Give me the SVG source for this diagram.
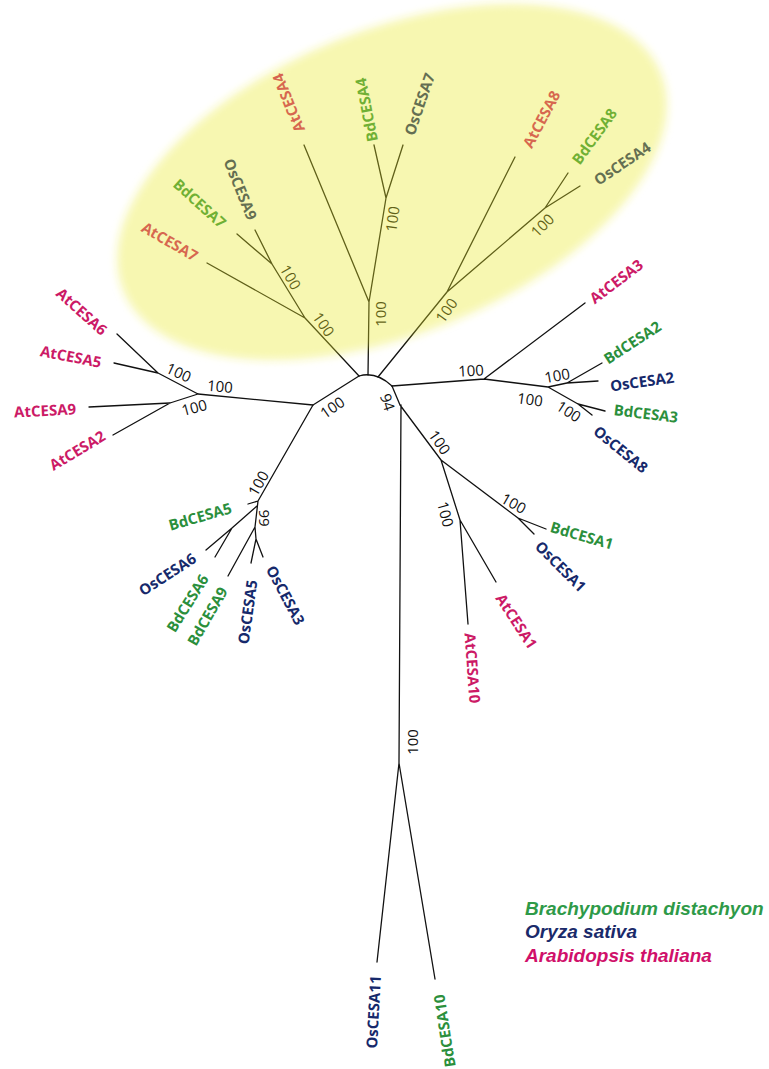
<svg xmlns="http://www.w3.org/2000/svg" width="769" height="1069" viewBox="0 0 769 1069">
<style>
.br{fill:none;stroke:#111;stroke-width:1.3;stroke-linecap:round}
.lbl{font-family:"Open Sans","Liberation Sans",sans-serif;font-weight:bold;font-size:15px;text-anchor:middle;dominant-baseline:central}
.bs{font-family:"Open Sans","Liberation Sans",sans-serif;font-size:15px;text-anchor:middle;dominant-baseline:central;fill:#111}
.at{fill:#cc1a66}.bd{fill:#2b8f3c}.os{fill:#16296b}
.leg{font-family:"Liberation Sans",Arial,sans-serif;font-weight:bold;font-style:italic;font-size:19px}
</style>
<defs>
<filter id="soft" x="-10%" y="-10%" width="120%" height="120%"><feGaussianBlur stdDeviation="4"/></filter>
</defs>
<rect width="769" height="1069" fill="#fff"/>
<g id="connectors">
<path class="br" d="M359,376 Q376,371 392,386"/>
<path class="br" d="M359,376 L305,318 M305,318 L207,263 M305,318 L272,264 L255,230 M272,264 L237,234"/>
<path class="br" d="M368,375 L369,302 M369,302 L304,145 M369,302 L386,198 M386,198 L374,145 M386,198 L403,145"/>
<path class="br" d="M378,377 L447,292 M447,292 L515,157 M447,292 L545,208 M545,208 L568,173 M545,208 L580,186"/>
<path class="br" d="M392,386 L484,379 M484,379 L585,303 M484,379 L548,387 M548,387 L567,383 M567,383 L602,363 M567,383 L598,381 M548,387 L578,404 M578,404 L605,411 M578,404 L592,415"/>
<path class="br" d="M392,386 L400,405 M401,405 L399,763 M400,405 L441,460 M441,460 L518,518 M518,518 L546,529 M518,518 L534,534 M441,460 L460,520 M460,520 L496,582 M460,520 L468,624 M399,763 L377,962 M399,763 L435,979"/>
<path class="br" d="M359,376 L313,405 M313,405 L198,394 M198,394 L158,373 M158,373 L117,334 M158,373 L114,363 M198,394 L170,403 M170,403 L89,407 M170,403 L113,435"/>
<path class="br" d="M313,405 L258,501 M258,501 L248,504 M258,501 L255,527 M257,506 L232,528 M232,528 L206,550 M232,528 L215,557 M255,527 L228,576 M255,527 L256,539 M256,539 L251,563 M256,539 L263,557"/>
</g>
<g id="support">
<text class="bs" transform="translate(291,277) rotate(60)">100</text>
<text class="bs" transform="translate(324,324) rotate(55)">100</text>
<text class="bs" transform="translate(380,314) rotate(-90)">100</text>
<text class="bs" transform="translate(392,219) rotate(-82)">100</text>
<text class="bs" transform="translate(542,225) rotate(-45)">100</text>
<text class="bs" transform="translate(446,310) rotate(-55)">100</text>
<text class="bs" transform="translate(471,370) rotate(-3)">100</text>
<text class="bs" transform="translate(557,375) rotate(-10)">100</text>
<text class="bs" transform="translate(530,399) rotate(8)">100</text>
<text class="bs" transform="translate(569,411) rotate(33)">100</text>
<text class="bs" transform="translate(440,442) rotate(55)">100</text>
<text class="bs" transform="translate(514,503) rotate(30)">100</text>
<text class="bs" transform="translate(446,514) rotate(75)">100</text>
<text class="bs" transform="translate(388,402) rotate(72)">94</text>
<text class="bs" transform="translate(332,407) rotate(-35)">100</text>
<text class="bs" transform="translate(179,372) rotate(25)">100</text>
<text class="bs" transform="translate(220,386) rotate(5)">100</text>
<text class="bs" transform="translate(194,407) rotate(-15)">100</text>
<text class="bs" transform="translate(258,483) rotate(-60)">100</text>
<text class="bs" transform="translate(265,518) rotate(90)">99</text>
<text class="bs" transform="translate(412,742) rotate(-90)">100</text>
</g>
<g id="AtCESA7"><text class="lbl at" transform="translate(170,241) rotate(30)">AtCESA7</text></g>
<g id="BdCESA7"><text class="lbl bd" transform="translate(200,203) rotate(42)">BdCESA7</text></g>
<g id="OsCESA9"><text class="lbl os" transform="translate(241,189) rotate(68)">OsCESA9</text></g>
<g id="AtCESA4"><text class="lbl at" transform="translate(288,103) rotate(-112)">AtCESA4</text></g>
<g id="BdCESA4"><text class="lbl bd" transform="translate(366,110) rotate(-101)">BdCESA4</text></g>
<g id="OsCESA7"><text class="lbl os" transform="translate(419,104) rotate(-71)">OsCESA7</text></g>
<g id="AtCESA8"><text class="lbl at" transform="translate(541,119) rotate(-62)">AtCESA8</text></g>
<g id="BdCESA8"><text class="lbl bd" transform="translate(594,136) rotate(-54)">BdCESA8</text></g>
<g id="OsCESA4"><text class="lbl os" transform="translate(622,163) rotate(-34)">OsCESA4</text></g>
<g id="AtCESA3"><text class="lbl at" transform="translate(616,281) rotate(-37)">AtCESA3</text></g>
<g id="BdCESA2"><text class="lbl bd" transform="translate(632,342) rotate(-33)">BdCESA2</text></g>
<g id="OsCESA2"><text class="lbl os" transform="translate(642,381) rotate(-8)">OsCESA2</text></g>
<g id="BdCESA3"><text class="lbl bd" transform="translate(646,413) rotate(7)">BdCESA3</text></g>
<g id="OsCESA8"><text class="lbl os" transform="translate(621,449) rotate(39)">OsCESA8</text></g>
<g id="BdCESA1"><text class="lbl bd" transform="translate(582,535) rotate(16)">BdCESA1</text></g>
<g id="OsCESA1"><text class="lbl os" transform="translate(561,566) rotate(45)">OsCESA1</text></g>
<g id="AtCESA1"><text class="lbl at" transform="translate(517,621) rotate(57)">AtCESA1</text></g>
<g id="AtCESA10"><text class="lbl at" transform="translate(473,668) rotate(86)">AtCESA10</text></g>
<g id="OsCESA11"><text class="lbl os" transform="translate(373,1012) rotate(-87)">OsCESA11</text></g>
<g id="BdCESA10"><text class="lbl bd" transform="translate(444,1031) rotate(-99)">BdCESA10</text></g>
<g id="OsCESA3"><text class="lbl os" transform="translate(286,595) rotate(62)">OsCESA3</text></g>
<g id="OsCESA5"><text class="lbl os" transform="translate(247,612) rotate(-82)">OsCESA5</text></g>
<g id="BdCESA9"><text class="lbl bd" transform="translate(207,616) rotate(-60)">BdCESA9</text></g>
<g id="BdCESA6"><text class="lbl bd" transform="translate(187,603) rotate(-58)">BdCESA6</text></g>
<g id="OsCESA6"><text class="lbl os" transform="translate(167,574) rotate(-33)">OsCESA6</text></g>
<g id="BdCESA5"><text class="lbl bd" transform="translate(200,516) rotate(-16)">BdCESA5</text></g>
<g id="AtCESA2"><text class="lbl at" transform="translate(77,450) rotate(-31)">AtCESA2</text></g>
<g id="AtCESA9"><text class="lbl at" transform="translate(45,410) rotate(-3)">AtCESA9</text></g>
<g id="AtCESA5"><text class="lbl at" transform="translate(71,356) rotate(11)">AtCESA5</text></g>
<g id="AtCESA6"><text class="lbl at" transform="translate(82,311) rotate(42)">AtCESA6</text></g>
<g id="highlight">
<ellipse cx="392" cy="182" rx="290" ry="152" transform="rotate(-22 392 182)" fill="rgb(233,233,38)" fill-opacity="0.365" filter="url(#soft)"/>
</g>
<g id="legend">
<text class="leg" x="525" y="915" fill="#2e9a48">Brachypodium distachyon</text>
<text class="leg" x="525" y="938" fill="#1a2a6a">Oryza sativa</text>
<text class="leg" x="525" y="962" fill="#d0106a">Arabidopsis thaliana</text>
</g>
</svg>
